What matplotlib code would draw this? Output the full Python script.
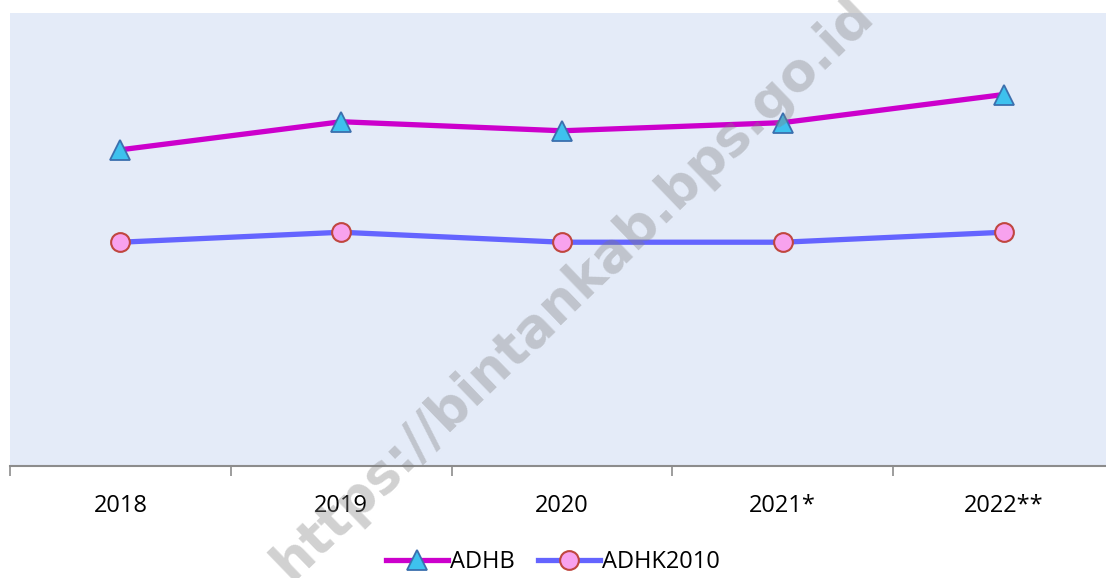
import numpy as np
import matplotlib
matplotlib.use('Agg')
import matplotlib.pyplot as plt

# categories and series (no y-axis shown)
years = ['2018', '2019', '2020', '2021*', '2022**']
adhb = [34.9, 38.0, 37.0, 37.9, 41.0]
adhk2010 = [24.7, 25.8, 24.7, 24.7, 25.8]

plt.rcParams['font.family'] = ['Open Sans', 'DejaVu Sans']

fig = plt.figure(figsize=(11.06, 5.78), dpi=100)
ax = fig.add_axes([10 / 1106, 1 - 466 / 578, 1104 / 1106, 453 / 578])
ax.set_facecolor('#E4EBF8')

x = np.arange(len(years))
ax.plot(x, adhb, color='#CC00CC', lw=3.8, marker='^', ms=15,
        mfc='#3EC1EE', mec='#3B6FAE', mew=1.3, label='ADHB', zorder=3)
ax.plot(x, adhk2010, color='#6464FF', lw=3.8, marker='o', ms=13.5,
        mfc='#F8A2EE', mec='#C0463F', mew=1.5, label='ADHK2010', zorder=3)

ax.set_xlim(-0.5, len(years) - 0.5)
ax.set_ylim(0, 50)
ax.set_yticks([])
for s in ['top', 'right', 'left']:
    ax.spines[s].set_visible(False)
ax.spines['bottom'].set_color('#8C8C8C')
ax.spines['bottom'].set_linewidth(1.5)

ax.set_xticks(x)
ax.set_xticklabels(years, fontsize=17)
ax.tick_params(axis='x', which='major', length=0, pad=20)
ax.set_xticks(np.arange(-0.5, len(years)), minor=True)
ax.tick_params(axis='x', which='minor', length=7, width=1.2, color='#8C8C8C')

fig.legend(loc='lower center', bbox_to_anchor=(0.5, -0.03), ncol=2,
           frameon=False, fontsize=17, handlelength=2.6, handletextpad=0.1,
           columnspacing=1.0)

# watermark
fig.text(0.518, 0.5, 'https://bintankab.bps.go.id', fontsize=38,
         fontweight='bold', family='DejaVu Sans', color='#808080', alpha=0.36,
         rotation=44, ha='center', va='center', zorder=10)

fig.savefig('out.png', dpi=100)
